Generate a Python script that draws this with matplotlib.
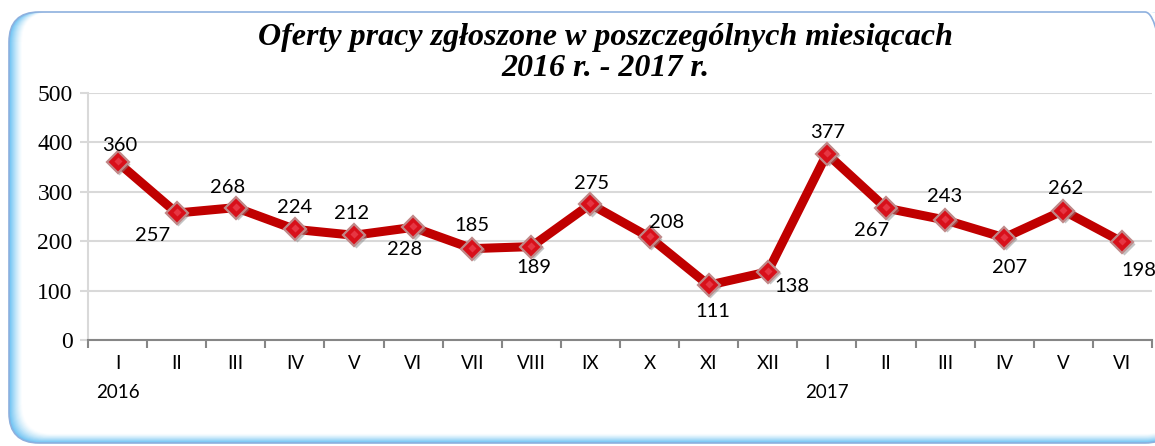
import matplotlib
matplotlib.use("Agg")
import matplotlib.pyplot as plt
from matplotlib.patches import FancyBboxPatch
import numpy as np

months = ["I", "II", "III", "IV", "V", "VI", "VII", "VIII", "IX", "X", "XI", "XII",
          "I", "II", "III", "IV", "V", "VI"]
years = {0: "2016", 12: "2017"}
values = [360, 257, 268, 224, 212, 228, 185, 189, 275, 208, 111, 138,
          377, 267, 243, 207, 262, 198]
title = "Oferty pracy zgłoszone w poszczególnych miesiącach\n2016 r. - 2017 r."

# label offsets in pixels (dx, dy) relative to the point
label_offsets = [(2, 17), (-24, -22), (-8, 20), (0, 22), (-2, 22), (-8, -22),
                 (0, 23), (3, -21), (1, 21), (17, 15), (4, -26), (24, -15),
                 (1, 21), (-14, -22), (0, 23), (5, -30), (2, 22), (16, -28)]

W, H = 1155, 446
fig = plt.figure(figsize=(W / 100, H / 100), dpi=100)

def fx(px):
    return px / W

def fy(py):
    return 1 - py / H

# frame with gradient glow on left and bottom
x0, y0, x1, y1 = 9, 12, 1175, 443
R = 30 / W
n = 14
blue = np.array([0.42, 0.76, 0.95])
white = np.array([1.0, 1.0, 1.0])
for i in range(n):
    t = i / (n - 1)
    col = blue * (1 - t) ** 1.3 + white * (1 - (1 - t) ** 1.3)
    inset_l = i * 1.0
    inset_b = i * 0.7
    p = FancyBboxPatch((fx(x0 + inset_l), fy(y1 - inset_b)),
                       fx(x1 - x0 - inset_l), fy(y0) - fy(y1 - inset_b),
                       boxstyle=f"round,pad=0,rounding_size={R}",
                       transform=fig.transFigure, facecolor=col,
                       edgecolor="none", zorder=0, mutation_aspect=W / H)
    fig.patches.append(p)
border = FancyBboxPatch((fx(x0), fy(y1)), fx(x1 - x0), fy(y0) - fy(y1),
                        boxstyle=f"round,pad=0,rounding_size={R}",
                        transform=fig.transFigure, facecolor="none",
                        edgecolor="#8eb0de", linewidth=1.2, zorder=0.5,
                        mutation_aspect=W / H)
fig.patches.append(border)

ax = fig.add_axes([fx(88), fy(340), fx(1152) - fx(88), fy(93) - fy(340)], zorder=2)
ax.set_facecolor("none")
x = np.arange(len(values))
ax.set_xlim(-0.5, len(values) - 0.5)
ax.set_ylim(0, 500)

ax.yaxis.grid(True, color="#d9d9d9", linewidth=1.5)
ax.set_axisbelow(True)
for s in ["top", "right"]:
    ax.spines[s].set_visible(False)
ax.spines["left"].set_color("#d9d9d9")
ax.spines["left"].set_linewidth(1.5)
ax.spines["bottom"].set_color("#868686")
ax.spines["bottom"].set_linewidth(1.5)

ax.set_yticks(np.arange(0, 501, 100))
ax.tick_params(axis="y", length=6, color="#d9d9d9", width=1.5, pad=5)
for lbl in ax.get_yticklabels():
    lbl.set_fontfamily("Liberation Serif")
    lbl.set_fontsize(17)
    lbl.set_color("#000000")

ax.set_xticks(np.arange(-0.5, len(values), 1.0))
ax.set_xticklabels([])
ax.tick_params(axis="x", which="major", length=6, color="#868686", width=1.5)
ax.set_xticks(x, minor=True)
ax.set_xticklabels(months, minor=True, fontfamily="Lato", fontsize=13.5)
ax.tick_params(axis="x", which="minor", length=0, pad=11)

for i, yr in years.items():
    ax.annotate(yr, xy=(x[i], 0), xycoords="data", xytext=(0, -53 * 72 / 100),
                textcoords="offset points", ha="center", va="center",
                fontfamily="Lato", fontsize=13.5)

ax.plot(x, values, color="#c00000", linewidth=6.5, solid_joinstyle="miter", zorder=3,
        clip_on=False)
ax.plot(x + 0.03, np.array(values) - 3, linestyle="none", marker="D", markersize=11,
        markerfacecolor="#8a8a8a", markeredgecolor="none", alpha=0.5, zorder=4,
        clip_on=False)
ax.plot(x, values, linestyle="none", marker="D", markersize=11,
        markerfacecolor="#d8101a", markeredgecolor="#c08888", markeredgewidth=1.6,
        zorder=5, clip_on=False)
ax.plot(x, np.array(values) + 2, linestyle="none", marker="D", markersize=4,
        markerfacecolor="#f05060", markeredgecolor="none", alpha=0.6, zorder=6,
        clip_on=False)

for xi, v, (dx, dy) in zip(x, values, label_offsets):
    ax.annotate(str(v), xy=(xi, v), xytext=(dx * 0.72, dy * 0.72),
                textcoords="offset points", ha="center", va="center",
                fontfamily="Lato", fontsize=14.5, zorder=7)

fig.text(fx(605), fy(53), title, ha="center", va="center",
         fontfamily="Liberation Serif", fontweight="bold", fontstyle="italic",
         fontsize=23, linespacing=1.12, zorder=3)

fig.savefig("out.png", dpi=100)
